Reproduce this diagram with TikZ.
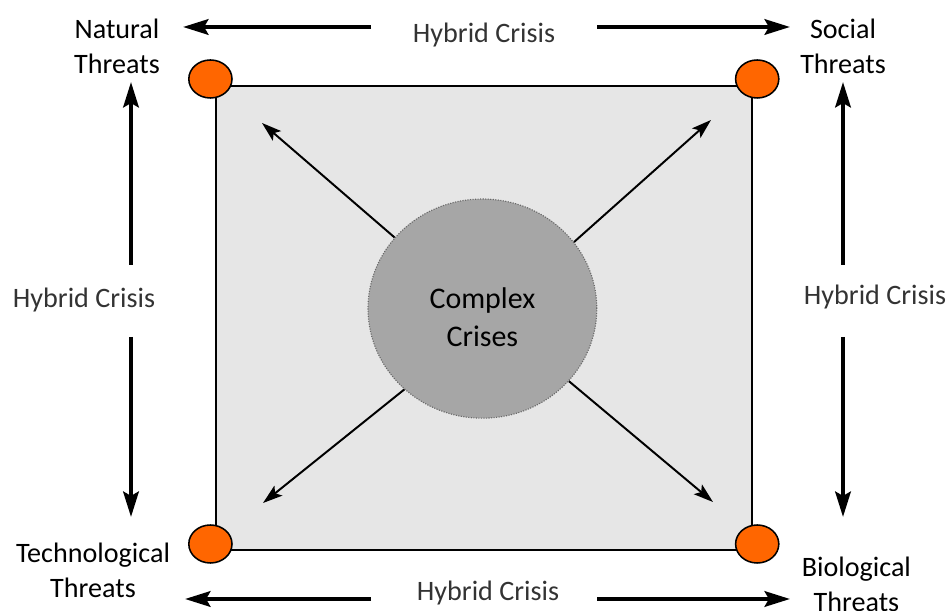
\documentclass[tikz,border=0pt]{standalone}
\usepackage{fontspec}
\setmainfont{Carlito}
\usetikzlibrary{arrows.meta, shapes.geometric}

\definecolor{boxgray}{RGB}{230,230,230}
\definecolor{coregray}{RGB}{166,166,166}
\definecolor{dotgray}{RGB}{105,105,105}
\definecolor{dotorange}{RGB}{255,102,0}

\begin{document}
\begin{tikzpicture}[scale=1.0, thick,
  threat/.style={align=center, inner sep=0pt, font=\fontsize{20}{25}\selectfont},
  hybrid/.style={anchor=base, inner sep=0pt, text=black!80, font=\fontsize{20}{25}\selectfont},
  corner/.style={ellipse, draw=black, line width=1.1pt, fill=dotorange,
    minimum width=1.08cm, minimum height=0.95cm, inner sep=0pt},
  bigarrow/.style={line width=2.9pt, -{Stealth[length=18pt, width=11pt, inset=3pt]}},
  thinarrow/.style={line width=1.4pt, -{Stealth[length=14pt, width=9pt, inset=3pt]}}]
  \useasboundingbox (0,0) rectangle (23.7,15.275);

  % 灰色方框
  \draw[fill=boxgray, line width=1.2pt] (5.4,1.525) rectangle (18.8,13.125);

  % 四角的橙色圆点
  \node[corner] (dNat) at (5.26,13.3)  {};
  \node[corner] (dSoc) at (18.93,13.3) {};
  \node[corner] (dTec) at (5.26,1.675) {};
  \node[corner] (dBio) at (18.93,1.675) {};

  % 中心圆
  \node[ellipse, draw=dotgray, densely dotted, line width=0.8pt, fill=coregray,
    minimum width=5.72cm, minimum height=5.48cm] (core) at (12.06,7.56) {};
  \node[align=center, inner sep=0pt, font=\fontsize{21.3}{27}\selectfont] (coreText)
    at (12.06,7.35) {Complex\\Crises};

  % 四类威胁
  \node[threat] (natural) at (2.925,14.11) {Natural\\Threats};
  \node[threat] (social)  at (21.075,14.11) {Social\\Threats};
  \node[threat] (techno)  at (2.325,1.01) {Technological\\Threats};
  \node[threat] (bio)     at (21.41,0.66) {Biological\\Threats};

  % 混合危机标签
  \node[hybrid] (hcTop)   at (12.1,14.2)  {Hybrid Crisis};
  \node[hybrid] (hcBot)   at (12.2,0.25)  {Hybrid Crisis};
  \node[hybrid] (hcLeft)  at (2.1,7.575)  {Hybrid Crisis};
  \node[hybrid] (hcRight) at (21.875,7.65) {Hybrid Crisis};

  % 粗箭头端点
  \coordinate (topL)  at (9.275,14.6);
  \coordinate (topR)  at (14.925,14.6);
  \coordinate (botL)  at (9.275,0.3);
  \coordinate (botR)  at (14.925,0.3);
  \coordinate (leftU) at (3.275,8.65);
  \coordinate (leftD) at (3.275,6.85);
  \coordinate (rightU) at (21.075,8.65);
  \coordinate (rightD) at (21.075,6.85);

  \coordinate (natTipH) at (4.575,14.6);
  \coordinate (socTipH) at (19.75,14.6);
  \coordinate (tecTipH) at (4.625,0.3);
  \coordinate (bioTipH) at (19.75,0.3);
  \coordinate (natTipV) at (3.275,13.225);
  \coordinate (tecTipV) at (3.275,2.35);
  \coordinate (socTipV) at (21.075,13.225);
  \coordinate (bioTipV) at (21.075,2.35);

  \draw[bigarrow] (topL) -- (natTipH);
  \draw[bigarrow] (topR) -- (socTipH);
  \draw[bigarrow] (botL) -- (tecTipH);
  \draw[bigarrow] (botR) -- (bioTipH);
  \draw[bigarrow] (leftU) -- (natTipV);
  \draw[bigarrow] (leftD) -- (tecTipV);
  \draw[bigarrow] (rightU) -- (socTipV);
  \draw[bigarrow] (rightD) -- (bioTipV);

  % 由中心指向四角
  \coordinate (natIn) at (6.55,12.2);
  \coordinate (socIn) at (17.775,12.275);
  \coordinate (tecIn) at (6.575,2.7);
  \coordinate (bioIn) at (17.825,2.725);

  \draw[thinarrow] (core.141) -- (natIn);
  \draw[thinarrow] (core.36)  -- (socIn);
  \draw[thinarrow] (core.226) -- (tecIn);
  \draw[thinarrow] (core.320) -- (bioIn);
\end{tikzpicture}
\end{document}
